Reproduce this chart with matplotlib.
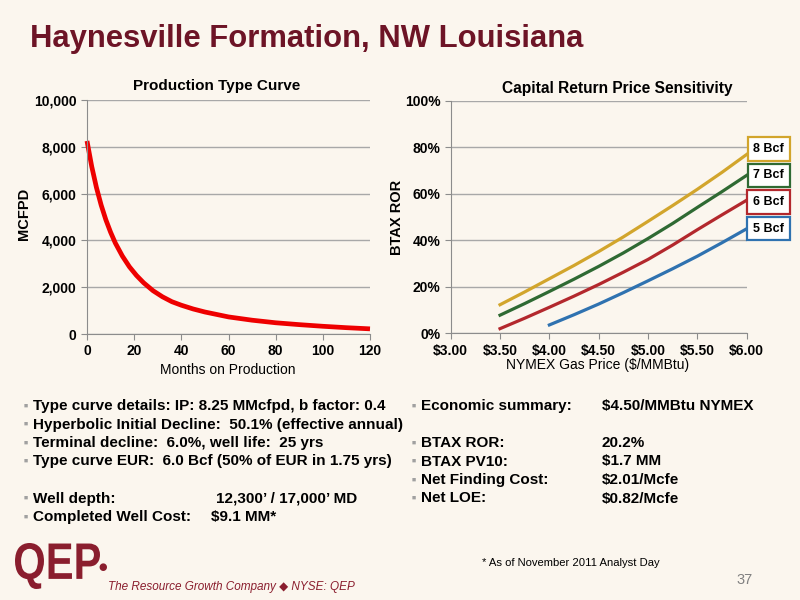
import matplotlib
matplotlib.use("Agg")
import matplotlib.pyplot as plt
from matplotlib.ticker import FuncFormatter, MultipleLocator
from matplotlib.textpath import TextPath
from matplotlib.patches import PathPatch
from matplotlib.font_manager import FontProperties
from matplotlib.transforms import Affine2D

# Production type curve
months = [0, 2, 4, 6, 8, 10, 12, 15, 18, 21, 24, 28, 32, 36, 40, 45, 50, 60, 70, 80, 90, 100, 110, 120]
mcfpd = [8250, 7160, 6260, 5510, 4880, 4350, 3890, 3330, 2870, 2500, 2190, 1850,
         1590, 1380, 1230, 1070, 940, 730, 590, 480, 400, 330, 270, 220]

# Capital return price sensitivity, BTAX ROR in %
gas_price = [3.50, 3.75, 4.00, 4.25, 4.50, 4.75, 5.00, 5.25, 5.50, 5.75, 6.00]
ror_8bcf = [12.3, 17.8, 23.5, 29.2, 35.2, 41.5, 48.2, 55.0, 62.0, 69.3, 77.0]
ror_7bcf = [7.8, 12.8, 18.0, 23.3, 28.8, 34.6, 40.8, 47.3, 54.2, 61.0, 68.0]
ror_6bcf = [2.0, 6.5, 11.2, 16.0, 21.0, 26.3, 31.8, 38.0, 44.6, 51.0, 57.3]
gas_price_5bcf = [4.00, 4.25, 4.50, 4.75, 5.00, 5.25, 5.50, 5.75, 6.00]
ror_5bcf = [3.6, 8.0, 12.6, 17.5, 22.6, 27.8, 33.2, 39.0, 45.0]
series_labels = ["8 Bcf", "7 Bcf", "6 Bcf", "5 Bcf"]
series_colors = ["#D2A52C", "#2F6A33", "#B3282D", "#2F72B0"]

# Bullet text under the charts
left_bullets = [
    ("Type curve details: IP: 8.25 MMcfpd, b factor: 0.4", ""),
    ("Hyperbolic Initial Decline:  50.1% (effective annual)", ""),
    ("Terminal decline:  6.0%, well life:  25 yrs", ""),
    ("Type curve EUR:  6.0 Bcf (50% of EUR in 1.75 yrs)", ""),
    None,
    ("Well depth:", "12,300\u2019 / 17,000\u2019 MD"),
    ("Completed Well Cost:", "$9.1 MM*"),
]
right_bullets = [
    ("Economic summary:", "$4.50/MMBtu NYMEX"),
    None,
    ("BTAX ROR:", "20.2%"),
    ("BTAX PV10:", "$1.7 MM"),
    ("Net Finding Cost:", "$2.01/Mcfe"),
    ("Net LOE:", "$0.82/Mcfe"),
]

BG = "#FBF6EE"
MAROON = "#6D1426"
LOGO = "#8A1E2E"
GRID = "#A8A8A8"
AXIS = "#8C8C8C"

plt.rcParams['font.family'] = ['Liberation Sans', 'DejaVu Sans']


def fx(px):
    return px / 800.0


def fy(py):
    return 1 - py / 600.0


def style_axes(ax):
    ax.set_facecolor(BG)
    for side in ("top", "right"):
        ax.spines[side].set_visible(False)
    for side in ("left", "bottom"):
        ax.spines[side].set_color(AXIS)
    ax.grid(axis="y", color=GRID, lw=1)
    ax.set_axisbelow(True)
    ax.tick_params(colors=AXIS, length=4, labelsize=10, labelcolor="black")
    for lbl in ax.get_xticklabels() + ax.get_yticklabels():
        lbl.set_fontweight("bold")


fig = plt.figure(figsize=(8, 6), dpi=100, facecolor=BG)

fig.text(fx(30), fy(47), "Haynesville Formation, NW Louisiana", fontsize=22.3,
         weight="bold", color=MAROON, va="baseline")

# Left chart: production type curve
ax1 = fig.add_axes([fx(87), fy(334), 283 / 800, 234 / 600])
ax1.plot(months, mcfpd, color="#EE0000", lw=3.4, clip_on=False, solid_capstyle="butt")
ax1.set_xlim(0, 120)
ax1.set_ylim(0, 10000)
ax1.xaxis.set_major_locator(MultipleLocator(20))
ax1.yaxis.set_major_locator(MultipleLocator(2000))
ax1.yaxis.set_major_formatter(FuncFormatter(lambda v, p: f"{v:,.0f}"))
style_axes(ax1)
fig.text(fx(228), fy(370), "Months on Production", fontsize=10, ha="center", va="center")
fig.text(fx(24), fy(214), "MCFPD", fontsize=10.5, weight="bold", rotation=90,
         ha="center", va="center")
fig.text(fx(217), fy(86), "Production Type Curve", fontsize=11, weight="bold",
         ha="center", va="center")

# Right chart: price sensitivity
ax2 = fig.add_axes([fx(450.7), fy(333.3), 296 / 800, 232.3 / 600])
ror_series = [ror_8bcf, ror_7bcf, ror_6bcf, ror_5bcf]
price_series = [gas_price, gas_price, gas_price, gas_price_5bcf]
for xs, ys, c in zip(price_series, ror_series, series_colors):
    ax2.plot(xs, ys, color=c, lw=2.3)
ax2.set_xlim(3.0, 6.0)
ax2.set_ylim(0, 100)
ax2.xaxis.set_major_locator(MultipleLocator(0.5))
ax2.yaxis.set_major_locator(MultipleLocator(20))
ax2.xaxis.set_major_formatter(FuncFormatter(lambda v, p: f"${v:.2f}"))
ax2.yaxis.set_major_formatter(FuncFormatter(lambda v, p: f"{v:.0f}%"))
style_axes(ax2)
fig.text(fx(598), fy(365), "NYMEX Gas Price ($/MMBtu)", fontsize=10, ha="center", va="center")
fig.text(fx(397), fy(217), "BTAX ROR", fontsize=10.5, weight="bold", rotation=90,
         ha="center", va="center")
fig.text(fx(617), fy(89), "Capital Return Price Sensitivity", fontsize=11.2,
         weight="bold", ha="center", va="center")

# series labels in boxes at the right end
for i, (lab, c) in enumerate(zip(series_labels, series_colors)):
    fig.text(fx(768.5), fy(149 + 26.5 * i), lab, fontsize=9, weight="bold",
             ha="center", va="center",
             bbox=dict(boxstyle="square,pad=0.45", fc="white", ec=c, lw=1.6))

# Bullets
row_y = [406, 424.5, 443, 461.5, 480, 498.5, 517]
for i, item in enumerate(left_bullets):
    if item is None:
        continue
    fig.text(fx(26), fy(row_y[i]), "\u25a0", fontsize=5, color="#A0A0A0",
             ha="center", va="center")
    fig.text(fx(33), fy(row_y[i]), item[0], fontsize=11, weight="bold", va="center")
    if item[1]:
        vx = 216 if i == 5 else 211
        fig.text(fx(vx), fy(row_y[i]), item[1], fontsize=11, weight="bold", va="center")

for i, item in enumerate(right_bullets):
    if item is None:
        continue
    fig.text(fx(414), fy(row_y[i]), "\u25a0", fontsize=5, color="#A0A0A0",
             ha="center", va="center")
    fig.text(fx(421), fy(row_y[i]), item[0], fontsize=11, weight="bold", va="center")
    fig.text(fx(602), fy(row_y[i]), item[1], fontsize=11, weight="bold", va="center")

# Footer: logo (stretched text), tagline, footnote, page number
logo = TextPath((0, 0), "QEP", size=40,
                prop=FontProperties(family="Liberation Sans", weight="bold"))
ext = logo.get_extents()
logo_tr = (Affine2D().translate(-ext.x0, -ext.y0)
           .scale(85 / ext.width, 46 / ext.height).translate(15, 600 - 589))
fig.add_artist(PathPatch(logo, transform=logo_tr, fc=LOGO, ec="none"))
fig.text(fx(103), fy(567), "\u25cf", fontsize=7, color=LOGO, ha="center", va="center",
         family=["DejaVu Sans"])
fig.text(fx(108), fy(590), "The Resource Growth Company \u25c6 NYSE: QEP", fontsize=8.5,
         style="italic", color=LOGO, va="baseline")
fig.text(fx(482), fy(563), "* As of November 2011 Analyst Day", fontsize=8.1, va="center")
fig.text(fx(745), fy(580), "37", fontsize=10.5, color="#808080", ha="center", va="center")

fig.savefig("out.png", dpi=100, facecolor=BG)
